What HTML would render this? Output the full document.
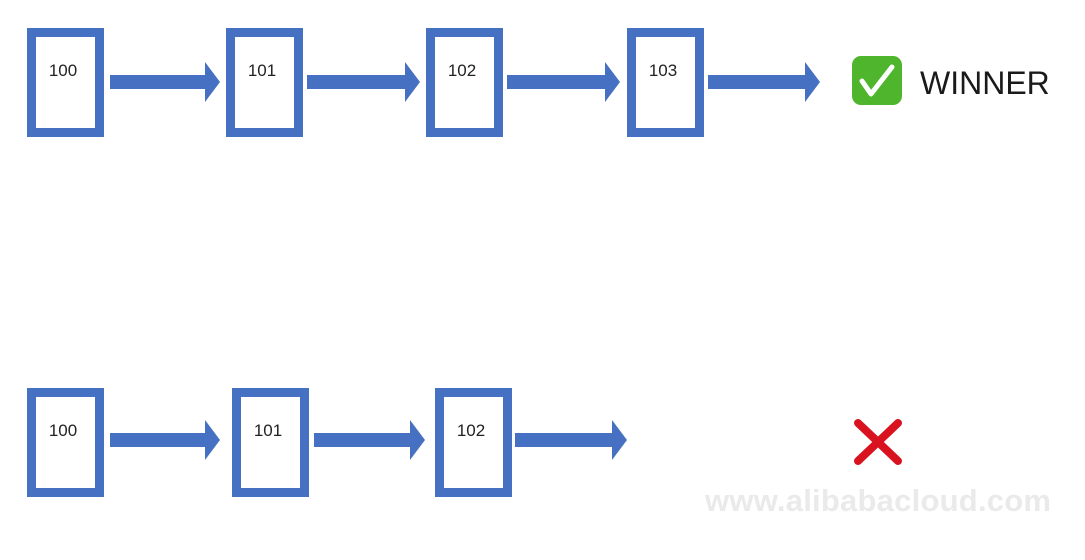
<!DOCTYPE html>
<html><head><style>
body{margin:0;width:1085px;height:560px;background:#fff;position:relative;overflow:hidden;font-family:"Liberation Sans",sans-serif}
.b{position:absolute;box-sizing:border-box;border:9px solid #4670c2;background:#fff;width:77px;height:109px}
.b span{position:absolute;left:0;right:0;top:24px;text-align:center;font-size:17px;color:#222;margin-left:-5px}
svg{position:absolute;left:0;top:0}
</style></head><body>
<div class="b" style="left:27px;top:28px"><span>100</span></div>
<div class="b" style="left:226px;top:28px"><span>101</span></div>
<div class="b" style="left:426px;top:28px"><span>102</span></div>
<div class="b" style="left:627px;top:28px"><span>103</span></div>
<div class="b" style="left:27px;top:388px"><span>100</span></div>
<div class="b" style="left:232px;top:388px"><span>101</span></div>
<div class="b" style="left:435px;top:388px"><span>102</span></div>
<svg width="1085" height="560">
<g fill="#4670c2">
<path d="M110 75h95v-13l15 20l-15 20v-13h-95z"/>
<path d="M307 75h98v-13l15 20l-15 20v-13h-98z"/>
<path d="M507 75h98v-13l15 20l-15 20v-13h-98z"/>
<path d="M708 75h97v-13l15 20l-15 20v-13h-97z"/>
<path d="M110 433h95v-13l15 20l-15 20v-13h-95z"/>
<path d="M314 433h96v-13l15 20l-15 20v-13h-96z"/>
<path d="M515 433h97v-13l15 20l-15 20v-13h-97z"/>
</g>
<rect x="852" y="56" width="50" height="49" rx="9" fill="#4fb52c"/>
<path d="M862 81l9 13l21-27" stroke="#fff" stroke-width="5" fill="none" stroke-linecap="round" stroke-linejoin="round"/>
<path d="M858 423l40 38M898 423l-40 38" stroke="#d8131f" stroke-width="8" stroke-linecap="round"/>
<text x="920" y="94" font-size="32" fill="#1a1a1a" font-family="Liberation Sans, sans-serif">WINNER</text>
<text x="705" y="511" font-size="31" fill="#eaeaea" font-family="Liberation Sans, sans-serif" font-weight="bold" textLength="346">www.alibabacloud.com</text>
</svg>
</body></html>
